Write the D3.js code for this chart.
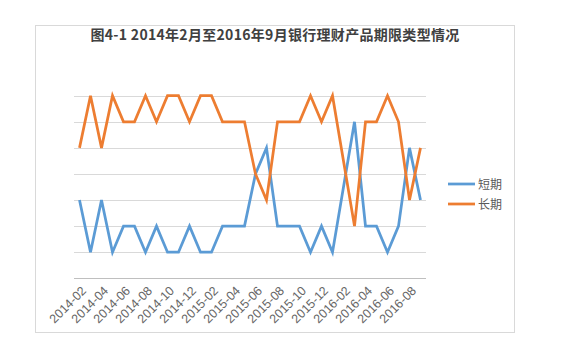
<!DOCTYPE html>
<html>
<head>
<meta charset="utf-8">
<script src="https://cdn.jsdelivr.net/npm/d3@7"></script>
<style>
  html, body { margin: 0; padding: 0; background: #fff; }
  svg { display: block; }
</style>
</head>
<body>
<div id="chart"></div>
<script>
const months = [
  "2014-02","2014-03","2014-04","2014-05","2014-06","2014-07","2014-08","2014-09",
  "2014-10","2014-11","2014-12","2015-01","2015-02","2015-03","2015-04","2015-05",
  "2015-06","2015-07","2015-08","2015-09","2015-10","2015-11","2015-12","2016-01",
  "2016-02","2016-03","2016-04","2016-05","2016-06","2016-07","2016-08","2016-09"
];
const shortTerm = [40,20,40,20,30,30,20,30,20,20,30,20,20,30,30,30,50,60,30,30,30,20,30,20,45,70,30,30,20,30,60,40];
const longTerm  = [60,80,60,80,70,70,80,70,80,80,70,80,80,70,70,70,50,40,70,70,70,80,70,80,55,30,70,70,80,70,40,60];
const yTicks = [10,20,30,40,50,60,70,80];
const seriesNames = ["短期","长期"];
const colors = ["#5B9BD5","#ED7D31"];
const title = "图4-1  2014年2月至2016年9月银行理财产品期限类型情况";

const W = 572, H = 356;
const svg = d3.select("#chart").append("svg").attr("width", W).attr("height", H);

svg.append("rect").attr("x", 35.5).attr("y", 25.5).attr("width", 479).attr("height", 307)
  .attr("fill", "#fff").attr("stroke", "#d9d9d9").attr("stroke-width", 1);

svg.append("text").attr("x", 275).attr("y", 40).attr("text-anchor", "middle")
  .attr("font-family", "'Noto Sans CJK SC', sans-serif").attr("font-weight", "bold")
  .attr("font-size", 14).attr("letter-spacing", 0.3).attr("fill", "#404040").text(title);

const x = d3.scalePoint().domain(months).range([74, 426]).padding(0.5);
const y = d3.scaleLinear().domain([10, 80]).range([278.3, 95.7]);

const g = svg.append("g");
g.selectAll("line.grid").data(yTicks.slice(1)).join("line")
  .attr("x1", 74).attr("x2", 426)
  .attr("y1", d => Math.round(y(d)) + 0.5).attr("y2", d => Math.round(y(d)) + 0.5)
  .attr("stroke", "#d9d9d9").attr("stroke-width", 1);

// x axis
const xAxis = d3.axisBottom(x).tickSize(0).tickValues(months.filter((m, i) => i % 2 === 0));
const ax = svg.append("g").attr("transform", `translate(0,${Math.round(y(10)) + 0.5})`).call(xAxis);
ax.select(".domain").attr("stroke", "#bfbfbf").attr("d", "M74,0H426");
ax.selectAll("text")
  .attr("font-family", "'Liberation Sans', Arial, sans-serif").attr("font-size", 12.5)
  .attr("fill", "#666666").attr("text-anchor", "end")
  .attr("dy", null).attr("y", 0)
  .attr("transform", "translate(7,13) rotate(-45)");

const line = d3.line().x((d, i) => x(months[i])).y(d => y(d));
[shortTerm, longTerm].forEach((s, k) => {
  svg.append("path").datum(s).attr("d", line).attr("fill", "none")
    .attr("stroke", colors[k]).attr("stroke-width", 2.75).attr("stroke-linejoin", "miter");
});

// legend
seriesNames.forEach((n, k) => {
  const ly = 184 + k * 20;
  svg.append("line").attr("x1", 448).attr("x2", 475).attr("y1", ly).attr("y2", ly)
    .attr("stroke", colors[k]).attr("stroke-width", 2.75);
  svg.append("text").attr("x", 478).attr("y", ly + 4.5)
    .attr("font-family", "'Noto Sans CJK SC', sans-serif").attr("font-size", 12)
    .attr("fill", "#595959").text(n);
});
</script>
</body>
</html>
